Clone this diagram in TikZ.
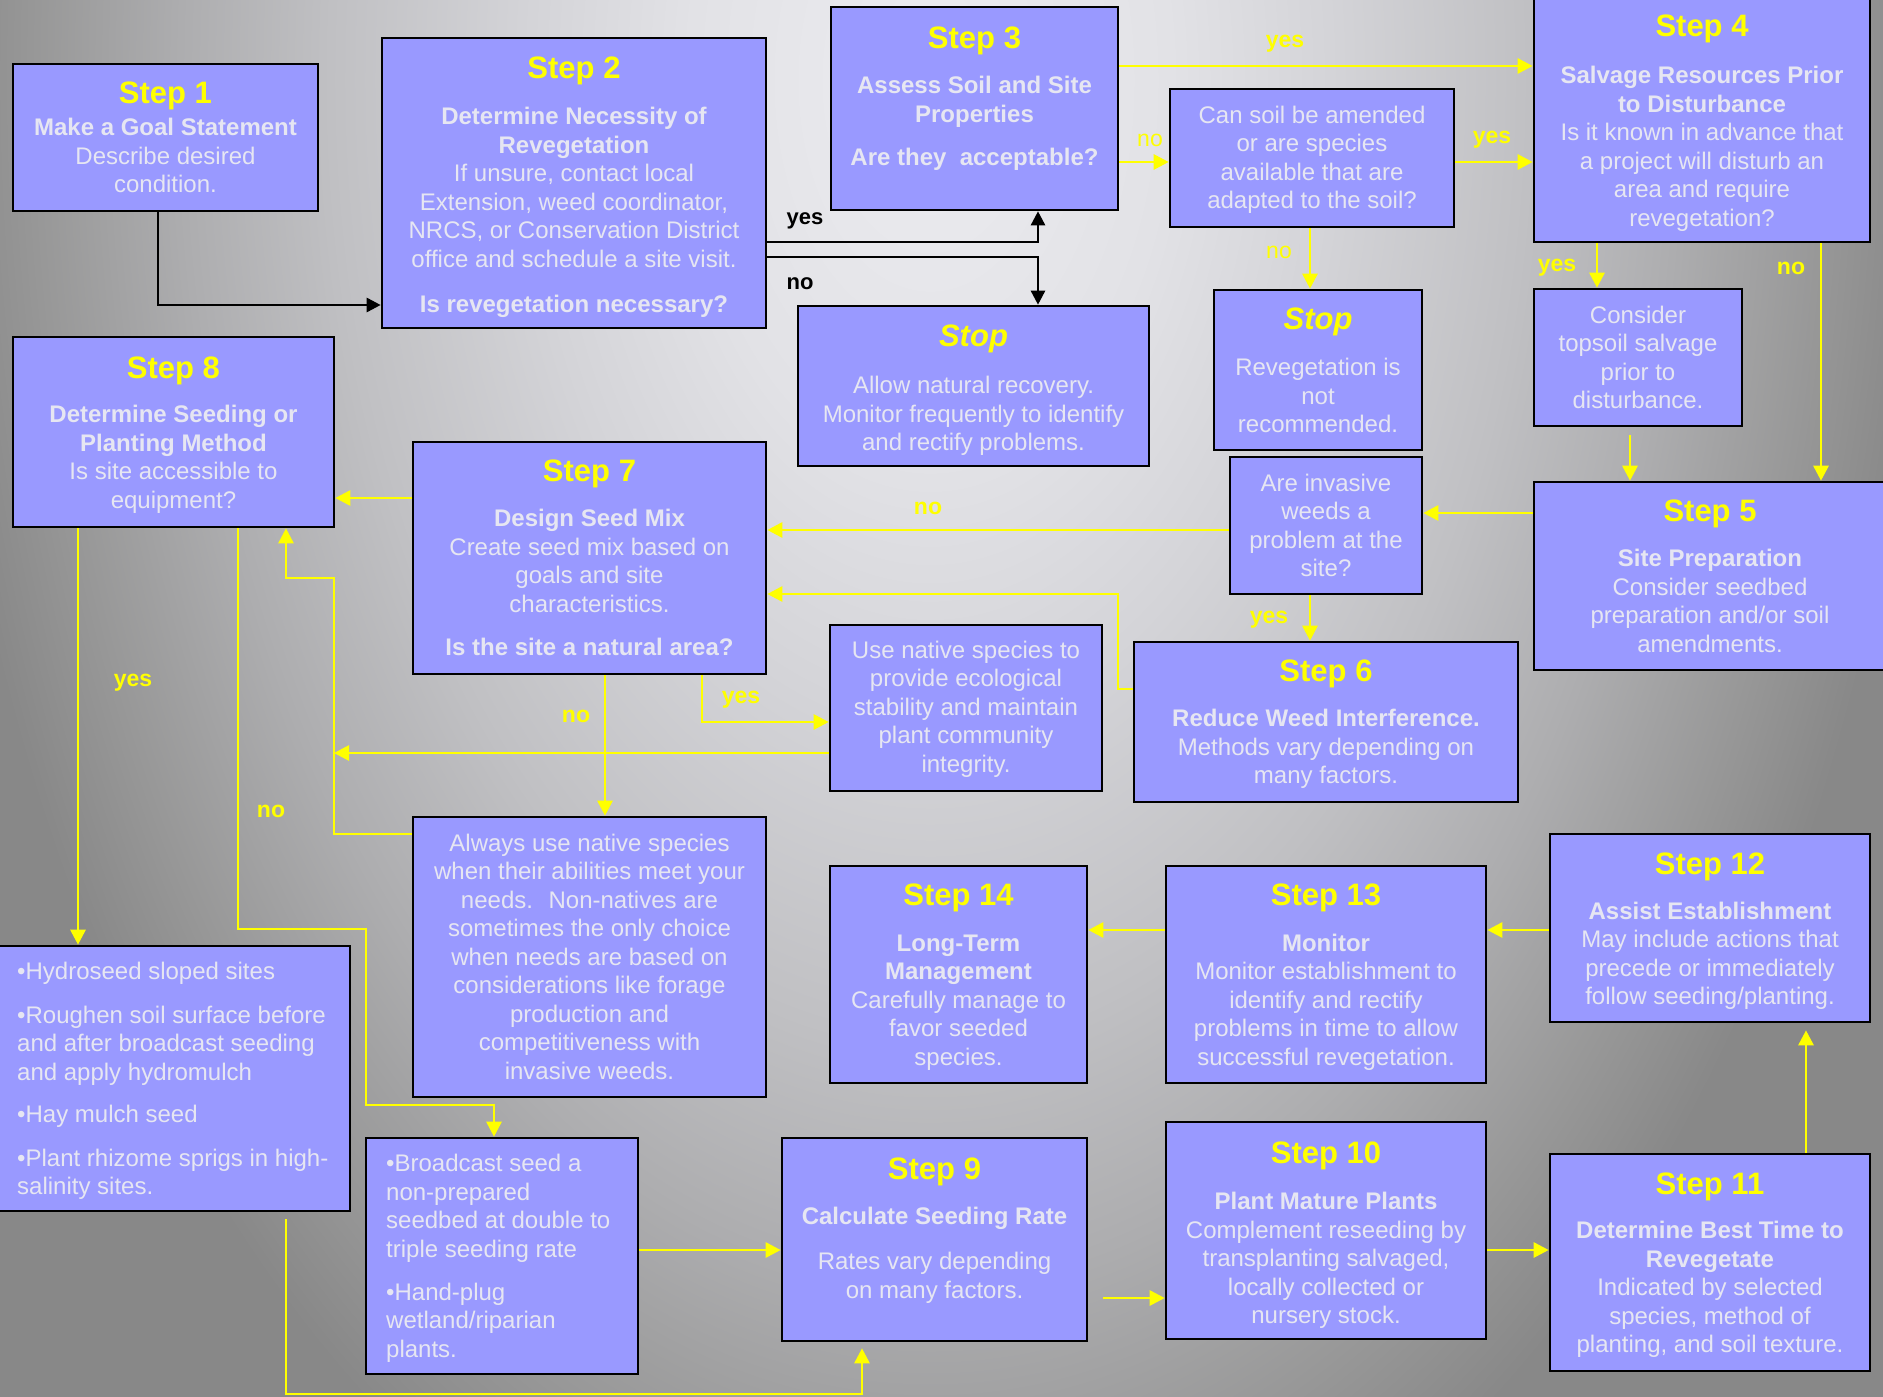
\documentclass[tikz,border=0pt]{standalone}
\usepackage{fontspec}
\setmainfont{Liberation Sans}
\usetikzlibrary{arrows.meta,fit}

\definecolor{boxblue}{HTML}{9999FF}
\definecolor{stepyellow}{HTML}{FFFF00}
\definecolor{bodytext}{HTML}{E6E6F2}
\definecolor{bgA}{HTML}{ECECF0}
\definecolor{bgB}{HTML}{E2E2E6}
\definecolor{bgC}{HTML}{D4D4D8}
\definecolor{bgD}{HTML}{C0C0C3}
\definecolor{bgE}{HTML}{ADADAF}
\definecolor{bgF}{HTML}{979797}
\definecolor{bgG}{HTML}{888888}

% soft grey glow behind the chart (the path box maps onto the central 50bp square)
\pgfdeclareradialshading{backglow}{\pgfpoint{0bp}{0bp}}{%
  color(0bp)=(bgA); color(6bp)=(bgB); color(10bp)=(bgC);
  color(15bp)=(bgD); color(18.75bp)=(bgE); color(22.5bp)=(bgF);
  color(25bp)=(bgG); color(50bp)=(bgG)}

\newcommand\steptitle[1]{{\fontsize{31}{34}\selectfont\bfseries\color{stepyellow}#1}}
\newcommand\subhead[1]{{\bfseries #1}}

\tikzset{
  boxst/.style={draw=black, line width=2.6pt, fill=boxblue, inner sep=0pt},
  txt/.style={anchor=north, align=center, inner sep=0pt, text=bodytext,
    font=\fontsize{24}{28.5}\selectfont},
  txtl/.style={anchor=north west, align=left, inner sep=0pt, text=bodytext,
    font=\fontsize{24}{28.5}\selectfont},
  ylink/.style={draw=stepyellow, line width=2.8pt,
    -{Triangle[length=15pt,width=15pt]}},
  blink/.style={draw=black, line width=2.6pt,
    -{Triangle[length=14pt,width=14pt]}},
  ylab/.style={text=stepyellow, inner sep=0pt,
    font=\fontsize{23}{25}\selectfont\bfseries},
  ylabr/.style={text=stepyellow, inner sep=0pt,
    font=\fontsize{23}{25}\selectfont},
  blab/.style={text=black, inner sep=0pt,
    font=\fontsize{22}{24}\selectfont\bfseries},
}

\begin{document}
\begin{tikzpicture}[x=1pt, y=-1pt]
\useasboundingbox (0,0) rectangle (1883,1397);

% background
\begin{scope}
  \clip (0,0) rectangle (1883,1397);
  \shade[shading=backglow] (-70,-1520) rectangle (1930,1680);
\end{scope}

\begin{scope}
\clip (0,0) rectangle (1883,1397);
% boxes
\node[boxst, fit={(13,64) (318,211)}] (s1) {};
\node[boxst, fit={(382,38) (766,328)}] (s2) {};
\node[boxst, fit={(831,7) (1118,210)}] (s3) {};
\node[boxst, fit={(1170,89) (1454,227)}] (soil) {};
\node[boxst, fit={(1534,-10) (1870,242)}] (s4) {};
\node[boxst, fit={(798,306) (1149,466)}] (stopA) {};
\node[boxst, fit={(1214,290) (1422,450)}] (stopB) {};
\node[boxst, fit={(1534,289) (1742,426)}] (top) {};
\node[boxst, fit={(1534,482) (1890,670)}] (s5) {};
\node[boxst, fit={(1230,457) (1422,594)}] (inv) {};
\node[boxst, fit={(1134,642) (1518,802)}] (s6) {};
\node[boxst, fit={(830,625) (1102,791)}] (nat) {};
\node[boxst, fit={(413,442) (766,674)}] (s7) {};
\node[boxst, fit={(13,337) (334,527)}] (s8) {};
\node[boxst, fit={(413,817) (766,1097)}] (alw) {};
\node[boxst, fit={(-10,946) (350,1211)}] (hyd) {};
\node[boxst, fit={(366,1138) (638,1374)}] (brd) {};
\node[boxst, fit={(782,1138) (1087,1341)}] (s9) {};
\node[boxst, fit={(1166,1122) (1486,1339)}] (s10) {};
\node[boxst, fit={(1550,1154) (1870,1371)}] (s11) {};
\node[boxst, fit={(1550,834) (1870,1022)}] (s12) {};
\node[boxst, fit={(1166,866) (1486,1083)}] (s13) {};
\node[boxst, fit={(830,866) (1087,1083)}] (s14) {};
\end{scope}

% bend points of the connectors
\coordinate (k1) at (158,305);
\coordinate (k2) at (1038,242);
\coordinate (k3) at (1038,257);
\coordinate (k4) at (0,66);
\coordinate (k5) at (0,162);
\coordinate (k7) at (1310,0);
\coordinate (k8) at (1597,0);
\coordinate (k9) at (1821,0);
\coordinate (k10) at (1630,0);
\coordinate (k11) at (0,513);
\coordinate (k12) at (0,530);
\coordinate (k14) at (1118,689);
\coordinate (k14b) at (1118,594);
\coordinate (k15) at (0,498);
\coordinate (k16) at (702,722);
\coordinate (k17) at (334,753);
\coordinate (k18a) at (334,834);
\coordinate (k18b) at (334,578);
\coordinate (k18c) at (286,578);
\coordinate (k19) at (605,0);
\coordinate (k20) at (78,0);
\coordinate (k21a) at (238,929);
\coordinate (k21b) at (366,929);
\coordinate (k21c) at (366,1105);
\coordinate (k21d) at (494,1105);
\coordinate (k22) at (0,1250);
\coordinate (k23a) at (286,1394);
\coordinate (k23b) at (862,1394);
\coordinate (k24) at (0,1298);
\coordinate (k26) at (1806,0);
\coordinate (k27) at (0,930);

% black connectors
\draw[blink] (s1.south-|k1) |- (s2.west|-k1);
\draw[blink] (s2.east|-k2) -| (s3.south-|k2);
\draw[blink] (s2.east|-k3) -| (stopA.north-|k3);

% yellow connectors
\draw[ylink] (s3.east|-k4) -- (s4.west|-k4);
\draw[ylink] (s3.east|-k5) -- (soil.west|-k5);
\draw[ylink] (soil.east|-k5) -- (s4.west|-k5);
\draw[ylink] (soil.south-|k7) -- (stopB.north-|k7);
\draw[ylink] (s4.south-|k8) -- (top.north-|k8);
\draw[ylink] (s4.south-|k9) -- (s5.north-|k9);
\draw[ylink, shorten <=8pt] (top.south-|k10) -- (s5.north-|k10);
\draw[ylink] (s5.west|-k11) -- (inv.east|-k11);
\draw[ylink] (inv.west|-k12) -- (s7.east|-k12);
\draw[ylink] (inv.south-|k7) -- (s6.north-|k7);
\draw[ylink] (s6.west|-k14) -- (k14) -- (k14b) -- (s7.east|-k14b);
\draw[ylink] (s7.west|-k15) -- (s8.east|-k15);
\draw[ylink] (s7.south-|k16) |- (nat.west|-k16);
\draw[ylink] (nat.west|-k17) -- (k17);
\draw[ylink] (alw.west|-k18a) -- (k18a) -- (k18b) -- (k18c) -- (s8.south-|k18c);
\draw[ylink] (s7.south-|k19) -- (alw.north-|k19);
\draw[ylink] (s8.south-|k20) -- (hyd.north-|k20);
\draw[ylink] (s8.south-|k21a) -- (k21a) -- (k21b) -- (k21c) -- (k21d) -- (brd.north-|k21d);
\draw[ylink] (brd.east|-k22) -- (s9.west|-k22);
\draw[ylink, shorten <=7pt, shorten >=6pt] (hyd.south-|k23a) -- (k23a) -- (k23b) -- (s9.south-|k23b);
\draw[ylink, shorten <=15pt] (s9.east|-k24) -- (s10.west|-k24);
\draw[ylink] (s10.east|-k22) -- (s11.west|-k22);
\draw[ylink, shorten >=7pt] (s11.north-|k26) -- (s12.south-|k26);
\draw[ylink] (s12.west|-k27) -- (s13.east|-k27);
\draw[ylink] (s13.west|-k27) -- (s14.east|-k27);

% box texts
\node[txt] (s1t) at (165.5,82) {\steptitle{Step 1}\\[3.5pt]
  \subhead{Make a Goal Statement}\\ Describe desired\\ condition.};
\node[txt] (s2t) at (574,57) {\steptitle{Step 2}\\[17.5pt]
  \subhead{Determine Necessity of}\\ \subhead{Revegetation}\\
  If unsure, contact local\\ Extension, weed coordinator,\\
  NRCS, or Conservation District\\ office and schedule a site visit.\\[16.5pt]
  \subhead{Is revegetation necessary?}};
\node[txt] (s3t) at (974.5,27) {\steptitle{Step 3}\\[16.5pt]
  \subhead{Assess Soil and Site}\\ \subhead{Properties}\\[14.5pt]
  \subhead{Are they~ acceptable?}};
\node[txt] (soilt) at (1312,105.5) {Can soil be amended\\ or are species\\
  available that are\\ adapted to the soil?};
\node[txt] (s4t) at (1702,15) {\steptitle{Step 4}\\[18.5pt]
  \subhead{Salvage Resources Prior}\\ \subhead{to Disturbance}\\
  Is it known in advance that\\ a project will disturb an\\
  area and require\\ revegetation?};
\node[txt] (stopAt) at (973.5,325) {\steptitle{\itshape Stop}\\[18.5pt]
  Allow natural recovery.\\ Monitor frequently to identify\\ and rectify problems.};
\node[txt] (stopBt) at (1318,308) {\steptitle{\itshape Stop}\\[17.5pt]
  Revegetation is\\ not\\ recommended.};
\node[txt] (topt) at (1638,305.5) {Consider\\ topsoil salvage\\ prior to\\ disturbance.};
\node[txt] (invt) at (1326,473.5) {Are invasive\\ weeds a\\ problem at the\\ site?};
\node[txt] (s5t) at (1710,500) {\steptitle{Step 5}\\[16.5pt]
  \subhead{Site Preparation}\\ Consider seedbed\\ preparation and/or soil\\ amendments.};
\node[txt] (s6t) at (1326,660) {\steptitle{Step 6}\\[16.5pt]
  \subhead{Reduce Weed Interference.}\\ Methods vary depending on\\ many factors.};
\node[txt] (natt) at (966,640.5) {Use native species to\\ provide ecological\\
  stability and maintain\\ plant community\\ integrity.};
\node[txt] (s7t) at (589.5,460) {\steptitle{Step 7}\\[16.5pt]
  \subhead{Design Seed Mix}\\ Create seed mix based on\\ goals and site\\
  characteristics.\\[14.5pt] \subhead{Is the site a natural area?}};
\node[txt] (s8t) at (173.5,357) {\steptitle{Step 8}\\[15.5pt]
  \subhead{Determine Seeding or}\\ \subhead{Planting Method}\\
  Is site accessible to\\ equipment?};
\node[txt] (alwt) at (589.5,833.5) {Always use native species\\
  when their abilities meet your\\ needs.~ Non-natives are\\
  sometimes the only choice\\ when needs are based on\\
  considerations like forage\\ production and\\
  competitiveness with\\ invasive weeds.};
\node[txtl] (hydt) at (17,961.5) {•Hydroseed sloped sites\\[15.5pt]
  •Roughen soil surface before\\ and after broadcast seeding\\
  and apply hydromulch\\[13.5pt] •Hay mulch seed\\[15.5pt]
  •Plant rhizome sprigs in high-\\ salinity sites.};
\node[txtl] (brdt) at (386,1154) {•Broadcast seed a\\ non-prepared\\
  seedbed at double to\\ triple seeding rate\\[14.5pt]
  •Hand-plug\\ wetland/riparian\\ plants.};
\node[txt] (s9t) at (934.5,1158) {\steptitle{Step 9}\\[16.5pt]
  \subhead{Calculate Seeding Rate}\\[16.5pt] Rates vary depending\\ on many factors.};
\node[txt] (s10t) at (1326,1142) {\steptitle{Step 10}\\[17.5pt]
  \subhead{Plant Mature Plants}\\ Complement reseeding by\\
  transplanting salvaged,\\ locally collected or\\ nursery stock.};
\node[txt] (s11t) at (1710,1173) {\steptitle{Step 11}\\[15.5pt]
  \subhead{Determine Best Time to}\\ \subhead{Revegetate}\\
  Indicated by selected\\ species, method of\\ planting, and soil texture.};
\node[txt] (s12t) at (1710,853) {\steptitle{Step 12}\\[16pt]
  \subhead{Assist Establishment}\\ May include actions that\\
  precede or immediately\\ follow seeding/planting.};
\node[txt] (s13t) at (1326,884) {\steptitle{Step 13}\\[17pt]
  \subhead{Monitor}\\ Monitor establishment to\\ identify and rectify\\
  problems in time to allow\\ successful revegetation.};
\node[txt] (s14t) at (958.5,884) {\steptitle{Step 14}\\[17pt]
  \subhead{Long-Term}\\ \subhead{Management}\\ Carefully manage to\\
  favor seeded\\ species.};

% connector labels
\node[blab] (l1) at (805,221) {yes};
\node[blab] (l2) at (800,284) {no};
\node[ylab] (l3) at (1285,44) {yes};
\node[ylabr] (l4) at (1150,140) {no};
\node[ylab] (l5) at (1492,140) {yes};
\node[ylabr] (l6) at (1279,252) {no};
\node[ylab] (l7) at (1557,268) {yes};
\node[ylab] (l8) at (1791,268) {no};
\node[ylab] (l9) at (928,508) {no};
\node[ylab] (l10) at (1269,620) {yes};
\node[ylab] (l11) at (741,700) {yes};
\node[ylab] (l12) at (576,716) {no};
\node[ylab] (l13) at (133,683) {yes};
\node[ylab] (l14) at (271,811) {no};
\end{tikzpicture}
\end{document}
